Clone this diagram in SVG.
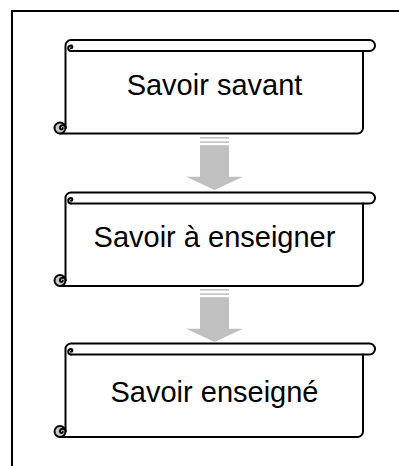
<svg xmlns="http://www.w3.org/2000/svg" xmlns:xlink="http://www.w3.org/1999/xlink" width="399" height="466" viewBox="0 0 399 466">
  <style>
    .ln { fill: none; stroke: #000; stroke-width: 2; stroke-linejoin: round; stroke-linecap: round; }
    .body { fill: #fff; stroke: #000; stroke-width: 2; stroke-linejoin: round; }
    .roll { fill: #c8c8c8; stroke: #000; stroke-width: 2; }
    .lbl { font-family: "Liberation Sans", Arial, sans-serif; font-size: 29px; fill: #000; text-anchor: middle; }
    .arrow { fill: #c0c0c0; stroke: none; }
  </style>
  <defs>
    <g id="scroll">
      <path class="body" d="M65.5,5.5 A5.5,5.5 0 0 1 71,0 H369.5 A5.5,5.5 0 0 1 369.5,11 H363 V88 A5.5,5.5 0 0 1 357.5,93.5 H60 V88 H65.5 Z"/>
      <path class="ln" d="M363,11 H71"/>
      <path class="ln" d="M71,11 A2.75,2.75 0 0 1 71,5.5 A1.4,1.4 0 0 1 71,8.3"/>
      <circle class="roll" cx="60" cy="88" r="5.5"/>
      <path class="ln" d="M65.5,88 A2.75,2.75 0 0 0 60,88 A1.4,1.4 0 0 0 62.8,88" style="fill:#fff"/>
    </g>
    <g id="arr">
      <rect class="arrow" x="200" y="0" width="29" height="1.6"/>
      <rect class="arrow" x="200" y="4.3" width="29" height="1.6"/>
      <path class="arrow" d="M200,8.3 H229 V39.7 H243 L214.5,53 L186,39.7 H200 Z"/>
    </g>
  </defs>

  <path d="M12,466 V11 H399" fill="none" stroke="#000" stroke-width="2"/>

  <g id="connectors">
    <use xlink:href="#arr" href="#arr" transform="translate(0,137)"/>
    <use xlink:href="#arr" href="#arr" transform="translate(0,289)"/>
  </g>

  <g id="node-savoir-savant">
    <use xlink:href="#scroll" href="#scroll" transform="translate(0,40)"/>
    <text class="lbl" x="214.5" y="95">Savoir savant</text>
  </g>
  <g id="node-savoir-a-enseigner">
    <use xlink:href="#scroll" href="#scroll" transform="translate(0,192.5)"/>
    <text class="lbl" x="214.5" y="247">Savoir à enseigner</text>
  </g>
  <g id="node-savoir-enseigne">
    <use xlink:href="#scroll" href="#scroll" transform="translate(0,343.5)"/>
    <text class="lbl" x="214.5" y="402">Savoir enseigné</text>
  </g>
</svg>
